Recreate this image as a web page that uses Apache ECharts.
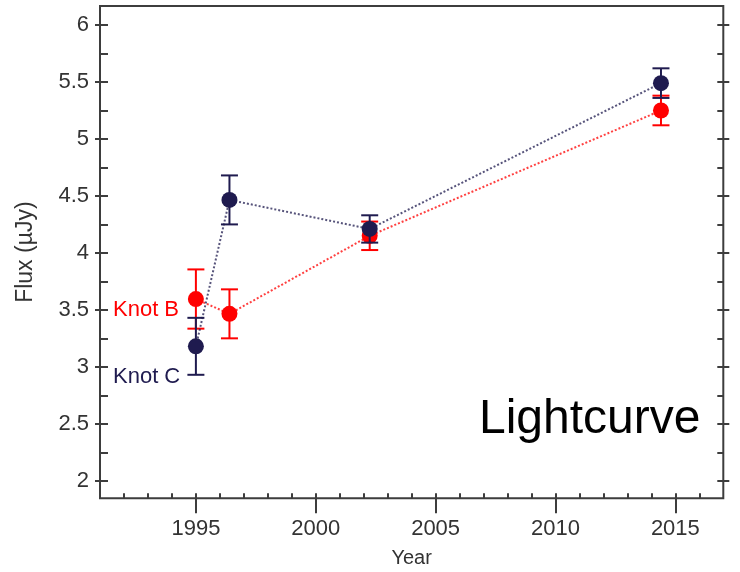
<!DOCTYPE html>
<html>
<head>
<meta charset="utf-8">
<script src="https://cdn.jsdelivr.net/npm/echarts@6/dist/echarts.min.js"></script>
<style>
  html, body { margin: 0; padding: 0; background: #fff; }
  #chart { width: 740px; height: 572px; }
</style>
</head>
<body>
<div id="chart"></div>
<script>
// Observation epochs (decimal year) and fluxes of the two knots
const knotCYears = [1995.0, 1996.4, 2002.25, 2014.4];
const knotCFlux  = [3.18, 4.465, 4.21, 5.49];
const knotCErr   = [0.25, 0.215, 0.12, 0.13];

const knotBYears = [1995.0, 1996.4, 2002.25, 2014.4];
const knotBFlux  = [3.595, 3.465, 4.15, 5.25];
const knotBErr   = [0.26, 0.215, 0.125, 0.13];

// Axis ticks and labels
const xMajor = [1995, 2000, 2005, 2010, 2015];
const xMinor = [1992, 1993, 1994, 1995, 1996, 1997, 1998, 1999, 2000, 2001, 2002, 2003, 2004,
                2005, 2006, 2007, 2008, 2009, 2010, 2011, 2012, 2013, 2014, 2015, 2016];
const yMajor = [2, 2.5, 3, 3.5, 4, 4.5, 5, 5.5, 6];
const yMinor = [2, 2.25, 2.5, 2.75, 3, 3.25, 3.5, 3.75, 4, 4.25, 4.5, 4.75, 5, 5.25, 5.5, 5.75, 6];

const NAVY = '#1f1b4f';
const RED = '#ff0000';
const AXIS = '#3d3d3d';
const FONT = '"Liberation Sans", Arial, sans-serif';

const X_MIN = 1991, X_MAX = 2017;
const Y_MIN = 1.846, Y_MAX = 6.167;

const points = (xs, ys) => xs.map((x, i) => [x, ys[i]]);
const bars = (xs, ys, es) => xs.map((x, i) => [x, ys[i] - es[i], ys[i] + es[i]]);

function errorBars(color) {
  return function (params, api) {
    const x = api.value(0);
    const lo = api.coord([x, api.value(1)]);
    const hi = api.coord([x, api.value(2)]);
    const w = 8.5;
    const st = { stroke: color, lineWidth: 2 };
    return {
      type: 'group',
      children: [
        { type: 'line', shape: { x1: lo[0], y1: lo[1], x2: hi[0], y2: hi[1] }, style: st },
        { type: 'line', shape: { x1: lo[0] - w, y1: lo[1], x2: lo[0] + w, y2: lo[1] }, style: st },
        { type: 'line', shape: { x1: hi[0] - w, y1: hi[1], x2: hi[0] + w, y2: hi[1] }, style: st }
      ]
    };
  };
}

function xAxisDef(extra) {
  return Object.assign({
    type: 'value', min: X_MIN, max: X_MAX, position: 'bottom',
    axisLine: { show: false }, splitLine: { show: false }
  }, extra);
}
function yAxisDef(extra) {
  return Object.assign({
    type: 'value', min: Y_MIN, max: Y_MAX,
    axisLine: { show: false }, splitLine: { show: false }
  }, extra);
}

const chart = echarts.init(document.getElementById('chart'), null, { renderer: 'canvas' });

chart.setOption({
  animation: false,
  backgroundColor: '#ffffff',
  grid: {
    left: 100, top: 6, right: 16.7, bottom: 73.7,
    outerBoundsMode: 'none', containLabel: false,
    show: true, borderColor: AXIS, borderWidth: 2, backgroundColor: 'transparent'
  },
  xAxis: [
    xAxisDef({
      name: 'Year', nameLocation: 'middle', nameGap: 50,
      nameTextStyle: { fontFamily: FONT, fontSize: 20, color: '#333' },
      axisTick: { show: true, inside: true, length: 5, customValues: xMinor, lineStyle: { color: AXIS, width: 2 } },
      axisLabel: {
        show: true, customValues: xMajor, margin: 20, fontFamily: FONT, fontSize: 22, color: '#333',
        formatter: v => String(v)
      }
    }),
    xAxisDef({
      axisTick: { show: true, inside: false, length: 15, customValues: xMajor, lineStyle: { color: AXIS, width: 2 } },
      axisLabel: { show: false }
    })
  ],
  yAxis: [
    yAxisDef({
      position: 'left',
      name: 'Flux (µJy)', nameLocation: 'middle', nameGap: 63, nameRotate: 90,
      nameTextStyle: { fontFamily: FONT, fontSize: 23, color: '#333' },
      axisTick: { show: true, inside: true, length: 8, customValues: yMinor, lineStyle: { color: AXIS, width: 2 } },
      axisLabel: {
        show: true, customValues: yMajor, margin: 11, fontFamily: FONT, fontSize: 22, color: '#333',
        formatter: v => String(v)
      }
    }),
    yAxisDef({
      position: 'left',
      axisTick: { show: true, inside: false, length: 5, customValues: yMajor, lineStyle: { color: AXIS, width: 2 } },
      axisLabel: { show: false }
    }),
    yAxisDef({
      position: 'right',
      axisTick: { show: true, inside: true, length: 6, customValues: yMinor, lineStyle: { color: AXIS, width: 2 } },
      axisLabel: { show: false }
    }),
    yAxisDef({
      position: 'right',
      axisTick: { show: true, inside: false, length: 6, customValues: yMajor, lineStyle: { color: AXIS, width: 2 } },
      axisLabel: { show: false }
    })
  ],
  series: [
    {
      name: 'Knot B error', type: 'custom', z: 2,
      renderItem: errorBars(RED),
      encode: { x: 0, y: [1, 2] },
      data: bars(knotBYears, knotBFlux, knotBErr)
    },
    {
      name: 'Knot B', type: 'line', z: 3,
      data: points(knotBYears, knotBFlux),
      symbol: 'circle', symbolSize: 16,
      itemStyle: { color: RED },
      lineStyle: { color: RED, width: 2, type: [2, 2], opacity: 0.75 }
    },
    {
      name: 'Knot C error', type: 'custom', z: 4,
      renderItem: errorBars(NAVY),
      encode: { x: 0, y: [1, 2] },
      data: bars(knotCYears, knotCFlux, knotCErr)
    },
    {
      name: 'Knot C', type: 'line', z: 5,
      data: points(knotCYears, knotCFlux),
      symbol: 'circle', symbolSize: 16,
      itemStyle: { color: NAVY },
      lineStyle: { color: NAVY, width: 2, type: [2, 2], opacity: 0.75 }
    }
  ],
  graphic: [
    {
      type: 'text', left: 113, top: 299,
      style: { text: 'Knot B', fill: RED, font: '22px ' + FONT }
    },
    {
      type: 'text', left: 113, top: 366,
      style: { text: 'Knot C', fill: NAVY, font: '22px ' + FONT }
    },
    {
      type: 'text', left: 479, top: 396,
      style: { text: 'Lightcurve', fill: '#000', font: '48px ' + FONT }
    }
  ]
});
</script>
</body>
</html>
